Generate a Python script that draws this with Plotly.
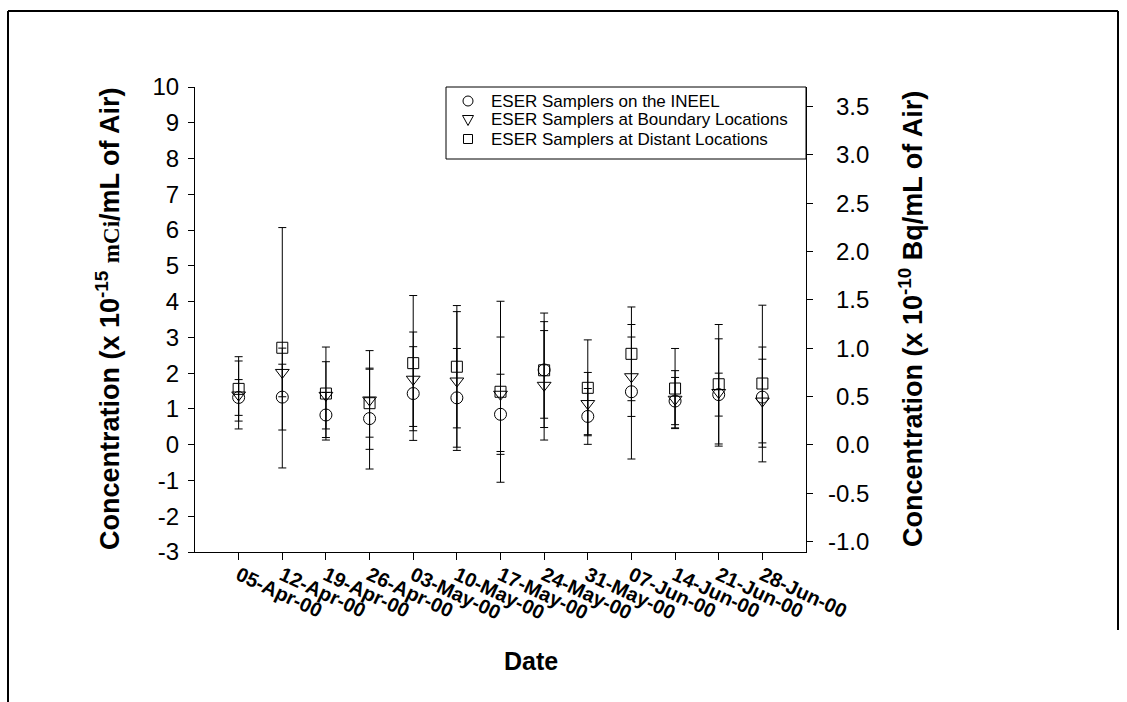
import plotly.graph_objects as go

# Sampling weeks (week-start dates)
dates = ["05-Apr-00", "12-Apr-00", "19-Apr-00", "26-Apr-00", "03-May-00", "10-May-00",
         "17-May-00", "24-May-00", "31-May-00", "07-Jun-00", "14-Jun-00", "21-Jun-00",
         "28-Jun-00"]

# Weekly mean concentrations (x 10^-15 uCi/mL) and their uncertainties
ineel = [1.32, 1.33, 0.83, 0.73, 1.43, 1.31, 0.85, 2.09, 0.79, 1.48, 1.22, 1.40, 1.33]
ineel_err = [0.50, 0.92, 0.63, 1.41, 1.31, 1.38, 1.12, 1.35, 0.78, 1.88, 0.66, 0.60, 1.40]

boundary = [1.39, 2.02, 1.38, 1.25, 1.83, 1.78, 1.41, 1.66, 1.15, 1.90, 1.27, 1.46, 1.22]
boundary_err = [0.95, 0.68, 0.94, 1.38, 1.32, 1.94, 1.60, 1.53, 0.87, 1.11, 0.80, 1.50, 1.17]

distant = [1.56, 2.71, 1.43, 1.16, 2.28, 2.18, 1.48, 2.08, 1.59, 2.54, 1.57, 1.69, 1.71]
distant_err = [0.90, 3.36, 1.30, 0.95, 1.89, 1.71, 2.53, 1.60, 1.34, 1.31, 1.12, 1.67, 2.19]

series_names = ["ESER Samplers on the INEEL",
                "ESER Samplers at Boundary Locations",
                "ESER Samplers at Distant Locations"]

left_ticks = list(range(-3, 11))
right_ticks = [-1.0, -0.5, 0.0, 0.5, 1.0, 1.5, 2.0, 2.5, 3.0, 3.5]

UCI_TO_BQ = 0.37  # 1e-15 uCi/mL = 0.37e-10 Bq/mL

FONT = "Liberation Sans, Arial, sans-serif"
xi = list(range(len(dates)))

W, H = 1127, 702
L, R, T, B = 195, 806, 87, 552


def px(xp):
    """pixel column -> paper x"""
    return (xp - L) / (R - L)


def py(yp):
    """pixel row -> paper y"""
    return (B - yp) / (B - T)


fig = go.Figure()

symbols = ["circle-open", "triangle-down-open", "square-open"]
sizes = [12, 12, 11]
for name, vals, errs, sym, sz in zip(series_names,
                                     [ineel, boundary, distant],
                                     [ineel_err, boundary_err, distant_err],
                                     symbols, sizes):
    fig.add_trace(go.Scatter(
        x=xi, y=vals, mode="markers", name=name, showlegend=False,
        marker=dict(symbol=sym, size=sz, color="black", line=dict(width=1, color="black")),
        error_y=dict(type="data", array=errs, visible=True, color="black",
                     thickness=1, width=4),
    ))

# invisible trace to activate the right-hand axis
fig.add_trace(go.Scatter(x=[None], y=[None], yaxis="y2", showlegend=False))

fig.update_layout(
    width=W, height=H,
    margin=dict(l=L, r=W - R, t=T, b=H - B),
    paper_bgcolor="white", plot_bgcolor="white",
    font=dict(family=FONT, color="black"),
    showlegend=False,
    xaxis=dict(
        range=[-1, len(dates)], tickvals=xi, ticktext=dates,
        tickangle=25, tickfont=dict(size=20, family=FONT, weight="bold"),
        showline=True, linecolor="black", linewidth=1,
        ticks="outside", ticklen=7, tickcolor="black", ticklabelstandoff=-4,
        showgrid=False, zeroline=False, automargin=False,
    ),
    yaxis=dict(
        range=[-3, 10], tickvals=left_ticks, ticktext=[str(v) for v in left_ticks],
        tickfont=dict(size=24, family=FONT),
        showline=True, linecolor="black", linewidth=1,
        ticks="outside", ticklen=6, tickcolor="black", ticklabelstandoff=4,
        showgrid=False, zeroline=False, automargin=False,
    ),
    yaxis2=dict(
        overlaying="y", side="right", anchor="x",
        range=[-3 * UCI_TO_BQ, 10 * UCI_TO_BQ],
        tickvals=right_ticks, showticklabels=False,
        showline=True, linecolor="black", linewidth=1,
        ticks="outside", ticklen=6, tickcolor="black",
        showgrid=False, zeroline=False, automargin=False,
    ),
)

# right-hand tick labels, right-aligned
for v in right_ticks:
    fig.add_annotation(text=f"{v:.1f}", xref="paper", yref="y2", x=px(871), y=v,
                       xanchor="right", yanchor="middle", showarrow=False,
                       font=dict(size=24, family=FONT))

title_left = ("<b>Concentration (x 10<sup>-15</sup> "
              "<span style='font-family:Liberation Serif, serif; font-size:23px'>mCi</span>"
              "/mL of Air)</b>")
title_right = "<b>Concentration (x 10<sup>-10</sup> Bq/mL of Air)</b>"

fig.add_annotation(text=title_left, xref="paper", yref="paper",
                   x=px(108), y=py(319), textangle=-90, showarrow=False,
                   font=dict(size=27, family=FONT), xanchor="center", yanchor="middle")
fig.add_annotation(text=title_right, xref="paper", yref="paper",
                   x=px(911), y=py(319), textangle=-90, showarrow=False,
                   font=dict(size=27, family=FONT), xanchor="center", yanchor="middle")
fig.add_annotation(text="<b>Date</b>", xref="paper", yref="paper",
                   x=px(531), y=py(661), showarrow=False,
                   font=dict(size=25, family=FONT), xanchor="center", yanchor="middle")

# legend box with symbols and labels
leg_x0, leg_x1, leg_y0, leg_y1 = 446, 806, 87, 159
fig.add_shape(type="rect", xref="paper", yref="paper",
              x0=px(leg_x0), x1=px(leg_x1), y0=py(leg_y0), y1=py(leg_y1),
              line=dict(color="black", width=1), fillcolor="white", layer="above")
row_y = [101, 120, 139]
sx = 468
sym_line = dict(color="black", width=1)
# circle
fig.add_shape(type="circle", xref="paper", yref="paper",
              x0=px(sx - 5), x1=px(sx + 5), y0=py(row_y[0] - 5), y1=py(row_y[0] + 5),
              line=sym_line, layer="above")
# down-pointing triangle
ty = row_y[1]
fig.add_shape(type="path", xref="paper", yref="paper",
              path=(f"M {px(sx - 5.5)},{py(ty - 4.5)} L {px(sx + 5.5)},{py(ty - 4.5)} "
                    f"L {px(sx)},{py(ty + 5.5)} Z"),
              line=sym_line, layer="above")
# square
qy = row_y[2]
fig.add_shape(type="rect", xref="paper", yref="paper",
              x0=px(sx - 4.5), x1=px(sx + 4.5), y0=py(qy - 4.5), y1=py(qy + 4.5),
              line=sym_line, layer="above")
for name, ry in zip(series_names, row_y):
    fig.add_annotation(text=name, xref="paper", yref="paper", x=px(489), y=py(ry),
                       xanchor="left", yanchor="middle", showarrow=False,
                       font=dict(size=17, family=FONT))

# outer frame
frame = dict(color="black", width=2)
fig.add_shape(type="line", xref="paper", yref="paper", x0=px(8), y0=py(11), x1=px(1118), y1=py(11), line=frame)
fig.add_shape(type="line", xref="paper", yref="paper", x0=px(8), y0=py(11), x1=px(8), y1=py(702), line=frame)
fig.add_shape(type="line", xref="paper", yref="paper", x0=px(1118), y0=py(11), x1=px(1118), y1=py(630), line=frame)

fig.write_html("out.html")
